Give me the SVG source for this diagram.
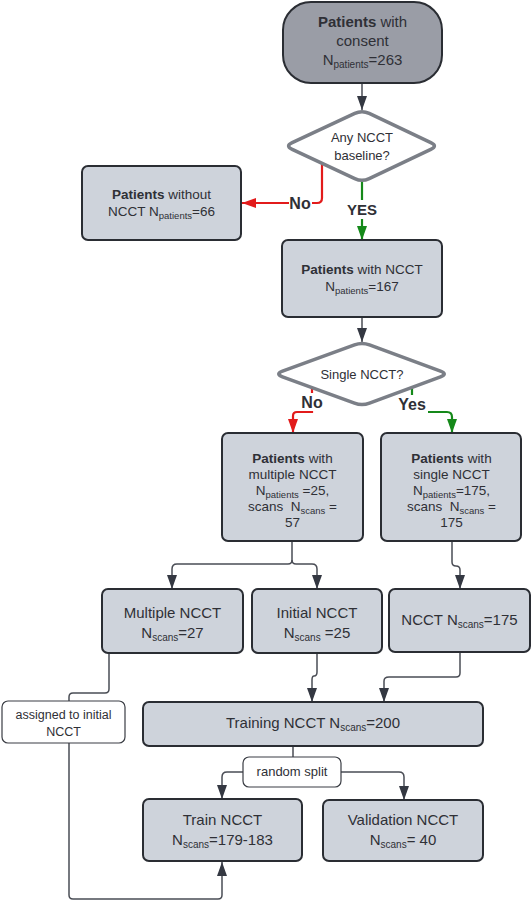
<svg xmlns="http://www.w3.org/2000/svg" width="532" height="902" viewBox="0 0 532 902">
<defs>
<style>
.box{fill:#ced3db;stroke:#2a2d33;stroke-width:2}
.top{fill:#9a9da6;stroke:#2a2d33;stroke-width:2}
.dia{fill:#ffffff;stroke:#7b7f87;stroke-width:3.5}
.note{fill:#ffffff;stroke:#3a3d44;stroke-width:1.2}
.t{font-family:"Liberation Sans",Arial,sans-serif;fill:#2f3036;text-anchor:middle;white-space:pre}
.b{font-weight:bold}
.c{fill:none;stroke:#4a4d55;stroke-width:1.5}
.red{fill:none;stroke:#e21b1b;stroke-width:2.2}
.grn{fill:none;stroke:#15891a;stroke-width:2.2}
.lbl{fill:#ffffff}
</style>
<marker id="ar" markerUnits="userSpaceOnUse" viewBox="0 0 14 10" refX="14" refY="5" markerWidth="14" markerHeight="10" orient="auto"><path d="M0,0 L14,5 L0,10 Z" fill="#343842"/></marker>
<marker id="arR" markerUnits="userSpaceOnUse" viewBox="0 0 14 10" refX="14" refY="5" markerWidth="14" markerHeight="10" orient="auto"><path d="M0,0 L14,5 L0,10 Z" fill="#e21b1b"/></marker>
<marker id="arG" markerUnits="userSpaceOnUse" viewBox="0 0 14 10" refX="14" refY="5" markerWidth="14" markerHeight="10" orient="auto"><path d="M0,0 L14,5 L0,10 Z" fill="#15891a"/></marker>
</defs>

<g id="connectors">
<path class="c" d="M362,83 L362,110" marker-end="url(#ar)"/>
<path class="red" d="M322,163 L322,198 Q322,203 317,203 L242,203" marker-end="url(#arR)"/>
<path class="grn" d="M362,182 L362,240" marker-end="url(#arG)"/>
<path class="c" d="M362,317 L362,342" marker-end="url(#ar)"/>
<path class="red" d="M312,388 L312,412 L297,412 Q293,412 293,416 L293,433" marker-end="url(#arR)"/>
<path class="grn" d="M412,387 L412,412 L447,412 Q452,412 452,417 L452,433" marker-end="url(#arG)"/>
<path class="c" d="M292,541 L292,560 Q292,564 288,564 L177,564 Q172,564 172,569 L172,589" marker-end="url(#ar)"/>
<path class="c" d="M292,560 Q292,564 296,564 L312,564 Q317,564 317,569 L317,589" marker-end="url(#ar)"/>
<path class="c" d="M452,541 L452,562 Q452,566 456,566 Q460,566 460,570 L460,589" marker-end="url(#ar)"/>
<path class="c" d="M109,653 L109,689 Q109,693 105,693 L73,693 Q69,693 69,697 L69,701"/>
<path class="c" d="M317,653 L317,672 Q317,676 314,676 Q312,676 312,680 L312,702" marker-end="url(#ar)"/>
<path class="c" d="M460,652 L460,673 Q460,677 456,677 L389,677 Q384,677 384,681 L384,702" marker-end="url(#ar)"/>
<path class="c" d="M293,746 L293,757"/>
<path class="c" d="M243,772 L227,772 Q222,772 222,777 L222,799" marker-end="url(#ar)"/>
<path class="c" d="M341,772 L399,772 Q404,772 404,777 L404,800" marker-end="url(#ar)"/>
<path class="c" d="M69,743 L69,895 Q69,899 73,899 L218,899 Q222,899 222,895 L222,862" marker-end="url(#ar)"/>
<rect class="lbl" x="289" y="193" width="23" height="20"/>
<text class="t b" x="300" y="209" font-size="16">No</text>
<rect class="lbl" x="345" y="200" width="34" height="19"/>
<text class="t b" x="362" y="215" font-size="15">YES</text>
<rect class="lbl" x="300" y="393" width="24" height="18"/>
<text class="t b" x="312" y="408" font-size="16">No</text>
<rect class="lbl" x="397" y="395" width="31" height="18"/>
<text class="t b" x="412" y="410" font-size="16">Yes</text>
</g>

<g id="n-consent">
<rect class="top" x="283" y="2" width="159" height="81" rx="28"/>
<text class="t" font-size="15" x="362.5" y="27"><tspan class="b">Patients</tspan> with</text>
<text class="t" font-size="15" x="362.5" y="46">consent</text>
<text class="t" font-size="15" x="362.5" y="65">N<tspan font-size="10" dy="3">patients</tspan><tspan dy="-3">=263</tspan></text>
</g>

<g id="d-baseline">
<path class="dia" d="M292.2,142.6 L354.8,113.4 Q362,110 369.2,113.4 L430.8,142.6 Q438,146 430.8,149.4 L369.2,178.6 Q362,182 354.8,178.6 L292.2,149.4 Q285,146 292.2,142.6 Z"/>
<text class="t" font-size="13" x="362" y="142">Any NCCT</text>
<text class="t" font-size="13" x="362" y="160">baseline?</text>
</g>

<g id="n-without">
<rect class="box" x="82" y="166" width="159" height="74" rx="6"/>
<text class="t" font-size="13.5" x="161.5" y="199"><tspan class="b">Patients</tspan> without</text>
<text class="t" font-size="13.5" x="161.5" y="216">NCCT N<tspan font-size="9.5" dy="3">patients</tspan><tspan dy="-3">=66</tspan></text>
</g>

<g id="n-withncct">
<rect class="box" x="282" y="240" width="160" height="77" rx="6"/>
<text class="t" font-size="13.5" x="362" y="274"><tspan class="b">Patients</tspan> with NCCT</text>
<text class="t" font-size="13.5" x="362" y="291">N<tspan font-size="9.5" dy="3">patients</tspan><tspan dy="-3">=167</tspan></text>
</g>

<g id="d-single">
<path class="dia" d="M282.5,371.2 L354.5,344.8 Q362,342 369.5,344.8 L440.5,371.2 Q448,374 440.5,376.8 L369.5,403.2 Q362,406 354.5,403.2 L282.5,376.8 Q275,374 282.5,371.2 Z"/>
<text class="t" font-size="13" x="362" y="379">Single NCCT?</text>
</g>

<g id="n-multiple-patients">
<rect class="box" x="222" y="433" width="141" height="108" rx="6"/>
<text class="t" font-size="13.5" x="292.5" y="463"><tspan class="b">Patients</tspan> with</text>
<text class="t" font-size="13.5" x="292.5" y="479">multiple NCCT</text>
<text class="t" font-size="13.5" x="292.5" y="495">N<tspan font-size="9.5" dy="3">patients</tspan><tspan dy="-3"> =25,</tspan></text>
<text class="t" font-size="13.5" x="292.5" y="511">scans  N<tspan font-size="9.5" dy="3">scans</tspan><tspan dy="-3"> =</tspan></text>
<text class="t" font-size="13.5" x="292.5" y="527">57</text>
</g>

<g id="n-single-patients">
<rect class="box" x="381" y="433" width="140" height="108" rx="6"/>
<text class="t" font-size="13.5" x="451.5" y="463"><tspan class="b">Patients</tspan> with</text>
<text class="t" font-size="13.5" x="451.5" y="479">single NCCT</text>
<text class="t" font-size="13.5" x="451.5" y="495">N<tspan font-size="9.5" dy="3">patients</tspan><tspan dy="-3">=175,</tspan></text>
<text class="t" font-size="13.5" x="451.5" y="511">scans  N<tspan font-size="9.5" dy="3">scans</tspan><tspan dy="-3"> =</tspan></text>
<text class="t" font-size="13.5" x="451.5" y="527">175</text>
</g>

<g id="n-multiple-ncct">
<rect class="box" x="102" y="589" width="141" height="64" rx="6"/>
<text class="t" font-size="15" x="172.5" y="618">Multiple NCCT</text>
<text class="t" font-size="15" x="172.5" y="638">N<tspan font-size="10" dy="3">scans</tspan><tspan dy="-3">=27</tspan></text>
</g>

<g id="n-initial-ncct">
<rect class="box" x="252" y="589" width="130" height="64" rx="6"/>
<text class="t" font-size="15" x="317" y="618">Initial NCCT</text>
<text class="t" font-size="15" x="317" y="638">N<tspan font-size="10" dy="3">scans</tspan><tspan dy="-3"> =25</tspan></text>
</g>

<g id="n-ncct175">
<rect class="box" x="389" y="589" width="141" height="63" rx="6"/>
<text class="t" font-size="15" x="459.5" y="625">NCCT N<tspan font-size="10" dy="3">scans</tspan><tspan dy="-3">=175</tspan></text>
</g>

<g id="n-assigned">
<rect class="note" x="2" y="701" width="123" height="42" rx="6"/>
<text class="t" font-size="12.5" x="63.5" y="719">assigned to initial</text>
<text class="t" font-size="12.5" x="63.5" y="736">NCCT</text>
</g>

<g id="n-training">
<rect class="box" x="143" y="702" width="340" height="44" rx="6"/>
<text class="t" font-size="15" x="313" y="728">Training NCCT N<tspan font-size="10" dy="3">scans</tspan><tspan dy="-3">=200</tspan></text>
</g>

<g id="n-random-split">
<rect class="note" x="243" y="757" width="98" height="30" rx="6"/>
<text class="t" font-size="13" x="292" y="776">random split</text>
</g>

<g id="n-train">
<rect class="box" x="143" y="799" width="159" height="62" rx="6"/>
<text class="t" font-size="15" x="222.5" y="825">Train NCCT</text>
<text class="t" font-size="15" x="222.5" y="845">N<tspan font-size="10" dy="3">scans</tspan><tspan dy="-3">=179-183</tspan></text>
</g>

<g id="n-validation">
<rect class="box" x="323" y="800" width="160" height="61" rx="6"/>
<text class="t" font-size="15" x="403" y="825">Validation NCCT</text>
<text class="t" font-size="15" x="403" y="845">N<tspan font-size="10" dy="3">scans</tspan><tspan dy="-3">= 40</tspan></text>
</g>
</svg>
